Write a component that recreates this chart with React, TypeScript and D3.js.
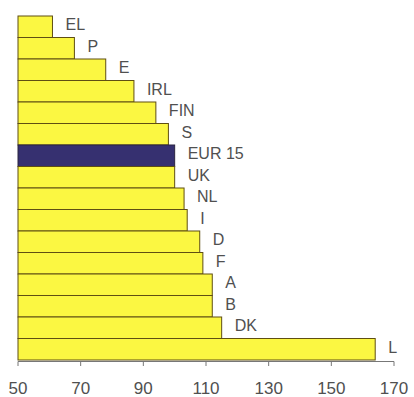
import React from "react";
import * as d3 from "d3";

const countries = ["EL", "P", "E", "IRL", "FIN", "S", "EUR 15", "UK", "NL", "I", "D", "F", "A", "B", "DK", "L"];
const values = [61, 68, 78, 87, 94, 98, 100, 100, 103, 104, 108, 109, 112, 112, 115, 164];
const tickValues = [50, 70, 90, 110, 130, 150, 170];
const highlight = "EUR 15";

const W = 414;
const H = 397;
const left = 18;
const right = 394;
const top = 16;
const bottom = 360;

export default function App() {
  const x = d3.scaleLinear().domain([50, 170]).range([left, right]);
  const y = d3
    .scaleBand<string>()
    .domain(countries)
    .range([top, bottom])
    .paddingInner(0)
    .paddingOuter(0);

  return (
    <svg
      width={W}
      height={H}
      style={{ position: "absolute", left: 0, top: 0, background: "#fff" }}
      fontFamily="Liberation Sans, Arial, sans-serif"
    >
      {countries.map((c, i) => {
        const isHi = c === highlight;
        const y0 = y(c)!;
        const bw = y.bandwidth();
        return (
          <g key={c}>
            <rect
              x={x(50)}
              y={y0}
              width={x(values[i]) - x(50)}
              height={bw}
              fill={isHi ? "#363070" : "#fbf742"}
              stroke={isHi ? "#2a2440" : "#5f4e12"}
              strokeWidth={1}
            />
            <text
              x={x(values[i]) + 13}
              y={y0 + bw / 2 - 2}
              dy="0.35em"
              fontSize={16}
              fill="#505050"
            >
              {c}
            </text>
          </g>
        );
      })}
      {/* x axis */}
      <line x1={x(50)} x2={x(170)} y1={361.5} y2={361.5} stroke="#777" strokeWidth={1} />
      {tickValues.map((t) => (
        <g key={t}>
          <line x1={x(t)} x2={x(t)} y1={361.5} y2={366} stroke="#777" strokeWidth={1} />
          <text x={x(t)} y={388.5} dy="0.35em" textAnchor="middle" fontSize={17} fill="#505050">
            {t}
          </text>
        </g>
      ))}
    </svg>
  );
}
